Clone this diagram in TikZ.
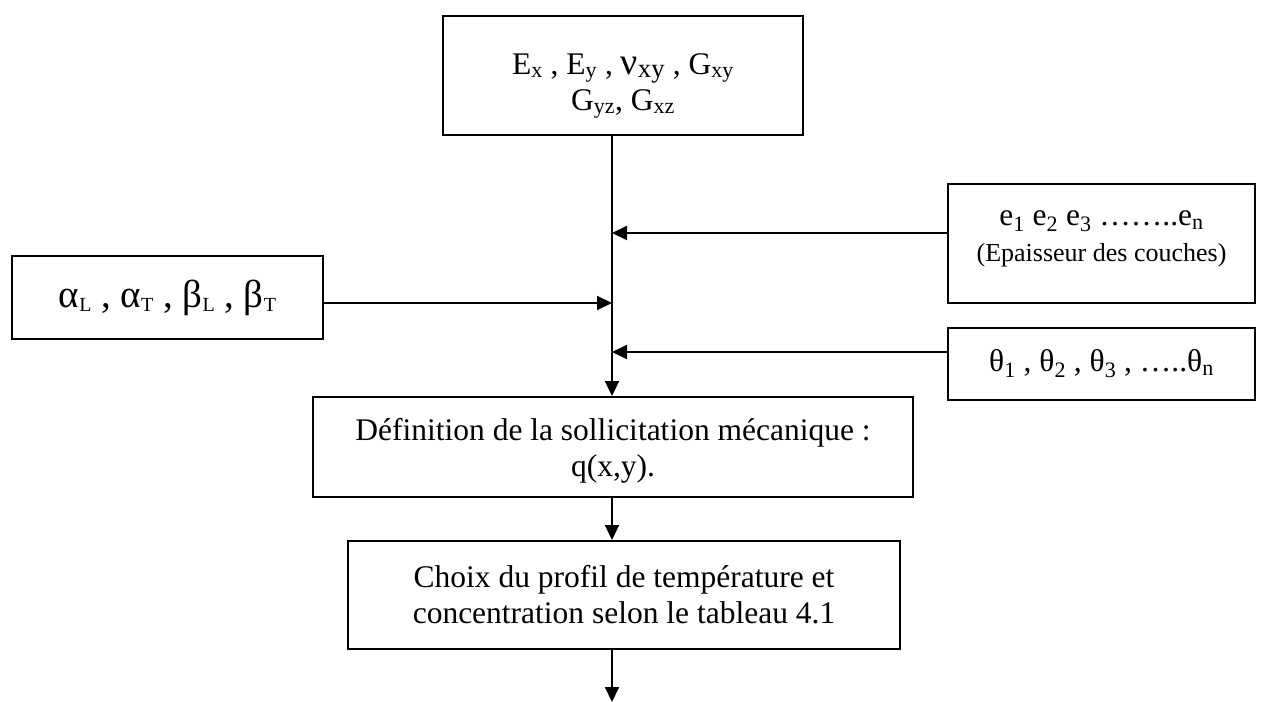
\documentclass[tikz,border=0pt]{standalone}
\usepackage{fontspec}
\setmainfont{Liberation Serif}
\usetikzlibrary{arrows.meta}
\newcommand\smallsub[1]{\raisebox{-0.12em}{\fontsize{20}{20}\selectfont #1}}
\begin{document}
\begin{tikzpicture}[x=1pt,y=-1pt,
  box/.style={draw, line width=2pt, inner sep=0pt, align=center, font=\fontsize{31.5}{36}\selectfont},
  link/.style={line width=2pt, -{Triangle[length=15pt,width=14pt]}}]
\useasboundingbox (0,0) rectangle (1262,702);
\node[box, minimum width=360, minimum height=119] (props) at (623,75.5)
  {\rule{0pt}{42pt}E\textsubscript{x} , E\textsubscript{y} , {\fontsize{38}{38}\selectfont ν\textsubscript{xy}} , G\textsubscript{xy}\\ G\textsubscript{yz}, G\textsubscript{xz}};
\node[box, minimum width=307, minimum height=119] (ebox) at (1101.5,243.5)
  {e\textsubscript{1} e\textsubscript{2} e\textsubscript{3} ……..e\textsubscript{n}\\ {\fontsize{26}{32}\selectfont (Epaisseur des couches)}\\[-22pt]};
\node[box, minimum width=311, minimum height=83, font=\fontsize{39}{44}\selectfont] (alpha) at (167.5,297.5)
  {α\smallsub{L} , α\smallsub{T} , β\smallsub{L} , β\smallsub{T}};
\node[box, minimum width=307, minimum height=72] (theta) at (1101.5,364)
  {θ\textsubscript{1} , θ\textsubscript{2} , θ\textsubscript{3} , …..θ\textsubscript{n}};
\node[box, minimum width=600, minimum height=100] (def) at (613,447)
  {\rule{0pt}{30pt}Définition de la sollicitation mécanique :\\ q(x,y).};
\node[box, minimum width=552, minimum height=108] (choix) at (624,595)
  {Choix du profil de température et\\ concentration selon le tableau 4.1};
\coordinate (jE) at (612,233);
\coordinate (jA) at (612,303);
\coordinate (jT) at (612,352);
\coordinate (bottom) at (612,702);
\draw[link] (jE |- props.south) -- (jE |- def.north);
\draw[link] (ebox.west |- jE) -- (jE);
\draw[link] (alpha.east |- jA) -- (jA);
\draw[link] (theta.west |- jT) -- (jT);
\draw[link] (jE |- def.south) -- (jE |- choix.north);
\draw[link] (jE |- choix.south) -- (bottom);
\end{tikzpicture}
\end{document}
